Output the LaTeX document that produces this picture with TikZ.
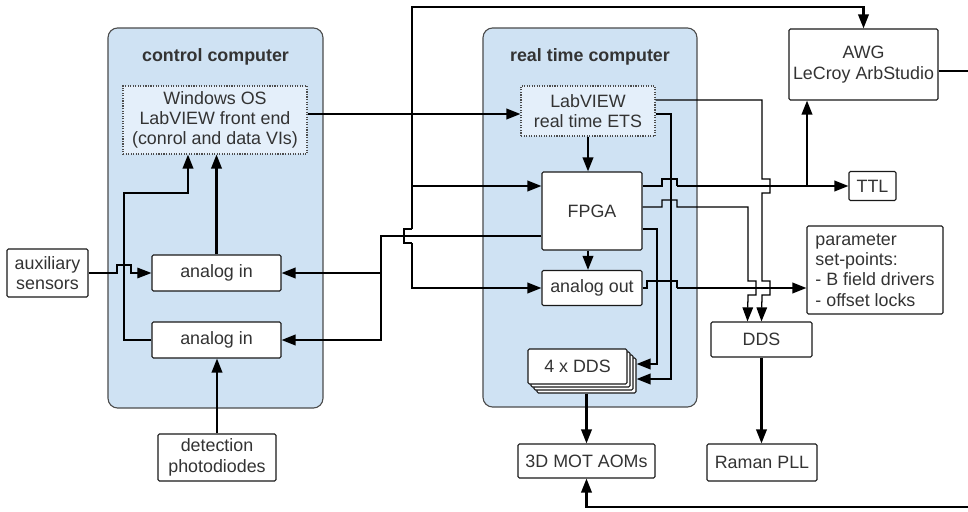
\documentclass[tikz,border=0pt]{standalone}
\usepackage{fontspec}
\setmainfont{Liberation Sans}
\usetikzlibrary{arrows.meta}
\definecolor{panelblue}{HTML}{CFE2F3}
\definecolor{softblue}{HTML}{E4EFFA}
\definecolor{inkgray}{HTML}{333333}

\begin{document}
\begin{tikzpicture}[x=0.025cm, y=-0.025cm, >={Triangle[length=10pt,width=7.5pt]},
    font=\fontsize{12.7}{14.4}\selectfont, text=inkgray,
    panel/.style={draw=black!70, line width=0.8pt, fill=panelblue, rounded corners=7pt},
    paneltitle/.style={font=\fontsize{12.7}{14.4}\selectfont\bfseries},
    soft/.style={draw=black!70, line width=0.8pt, densely dotted, fill=softblue, align=center, inner sep=0pt},
    box/.style={draw=black!90, line width=0.8pt, fill=white, align=center, inner sep=0pt, rounded corners=1pt},
    wire/.style={line width=1.5pt},
    thinwire/.style={line width=0.9pt}]

    \useasboundingbox (0,0) rectangle (968,512);
    \clip (0,0) rectangle (968,512);

    % Computers
    \node[panel, minimum width=5.375cm, minimum height=9.5cm] (ctrlpc) at (215.5,218) {};
    \node[panel, minimum width=5.35cm, minimum height=9.475cm] (rtpc) at (590,217.5) {};
    \node[paneltitle] (ctrltitle) at (215.5,57) {control computer};
    \node[paneltitle] (rttitle) at (590,57) {real time computer};

    % Software
    \node[soft, minimum width=4.6cm, minimum height=1.7cm] (winos) at (215,120)
      {Windows OS\\LabVIEW front end\\(conrol and data VIs)};
    \node[soft, minimum width=3.35cm, minimum height=1.25cm] (labview) at (588,111)
      {LabVIEW\\real time ETS};

    % Kaarten in de computers
    \node[box, minimum width=2.5cm, minimum height=1.95cm] (fpga) at (592,211) {FPGA};
    \node[box, minimum width=2.5cm, minimum height=0.875cm] (aout) at (592,288) {analog out};
    \node[box, minimum width=3.225cm, minimum height=0.9cm] (ain1) at (216.5,273) {analog in};
    \node[box, minimum width=3.225cm, minimum height=0.9cm] (ain2) at (216.5,340) {analog in};
    \foreach \k/\nm in {3/dds4c,2/dds4b,1/dds4a}
      \node[box, minimum width=2.475cm, minimum height=0.875cm] (\nm) at ({577.5+3*\k},{366.5+3*\k}) {};
    \node[box, minimum width=2.475cm, minimum height=0.875cm] (dds4) at (577.5,366.5) {4 x DDS};

    % Buiten de computers
    \node[box, minimum width=2.025cm, minimum height=1.2cm] (aux) at (47.5,273) {auxiliary\\sensors};
    \node[box, minimum width=2.95cm, minimum height=1.175cm] (det) at (217,457.5) {detection\\photodiodes};
    \node[box, minimum width=3.425cm, minimum height=0.85cm] (mot) at (586.5,461) {3D MOT AOMs};
    \node[box, minimum width=2.525cm, minimum height=0.875cm] (dds) at (761.5,339.5) {DDS};
    \node[box, minimum width=2.75cm, minimum height=0.925cm] (raman) at (762,462.5) {Raman PLL};
    \node[box, minimum width=3.725cm, minimum height=1.775cm] (awg) at (863.5,64.5) {AWG\\LeCroy ArbStudio};
    \node[box, minimum width=1.175cm, minimum height=0.725cm] (ttl) at (872.5,186) {TTL};
    \node[box, minimum width=3.4cm, minimum height=2.2cm, align=left] (param) at (875,270)
      {parameter\\set-points:\\- B field drivers\\- offset locks};

    % Control computer
    \draw[wire,->] (ain1.north) -- (ain1.north |- winos.south);
    \draw[wire,->] (ain2.west) -| (124,193) -| ([xshift=-0.675cm]winos.south);
    \draw[thinwire,->] (aux.east) -- (117,273) -- (117,265) -- (131,265) -- (131,273) -- (ain1.west);
    \draw[wire,->] (det.north) -- (det.north |- ain2.south);

    % Naar de real time computer
    \draw[wire,->] (winos.east |- 0,114) -- (labview.west |- 0,114);
    \draw[wire,->] (labview.south) -- (labview.south |- fpga.north);
    \draw[wire,->] (labview.south |- fpga.south) -- (labview.south |- aout.north);

    % Bus vanaf boven
    \draw[wire,->] (412,229) -- (412,7) -| (awg.north);
    \draw[wire,->] (412,186) -- (fpga.west |- 0,186);
    \draw[thinwire] (412,229) -| (404,243) -- (412,243);
    \draw[wire,->] (412,243) |- (aout.west);

    % FPGA naar analog in
    \draw[wire,->] (fpga.west |- 0,236) -| (381,273) -- (ain1.east);
    \draw[wire,->] (381,273) |- (ain2.east);

    % FPGA uitgangen
    \draw[thinwire] (fpga.east |- 0,186) -- (662,186) -- (662,179) -- (677,179) -- (677,186);
    \draw[wire,->] (677,186) -- (ttl.west);
    \draw[wire,->] (807,186) -- (807,186 |- awg.south);
    \draw[thinwire,->] (fpga.east |- 0,207) -- (662,207) -- (662,200) -- (677,200) -- (677,207)
      -- (748,207) -- (748,281) -- (756,281) -- (756,295) -- (748,295) -- ([xshift=-0.35cm]dds.north);
    \draw[wire,->] (fpga.east |- 0,229) -- (657,229) |- (dds4c.east |- 0,364);

    % LabVIEW uitgangen
    \draw[thinwire,->] (labview.east |- 0,100) -- (762,100) -- (762,179) -- (770,179) -- (770,193)
      -- (762,193) -- (762,281) -- (770,281) -- (770,295) -- (762,295) -- (dds.north);
    \draw[wire,->] (labview.east |- 0,114) -- (671,114) |- (dds4c.east |- 0,379);

    % Analog out
    \draw[thinwire] (aout.east) -- (647,288) -- (647,281) -- (677,281) -- (677,288);
    \draw[wire,->] (677,288) -- (param.west |- 0,288);

    % DDS uitgangen
    \draw[wire,->] (dds.south) -- (dds.south |- raman.north);
    \draw[wire,->] (dds4c.south) -- (dds4c.south |- mot.north);
    \draw[wire,->] (awg.east |- 0,71) -- (972,71) -- (972,507) -| (mot.south);

\end{tikzpicture}
\end{document}
